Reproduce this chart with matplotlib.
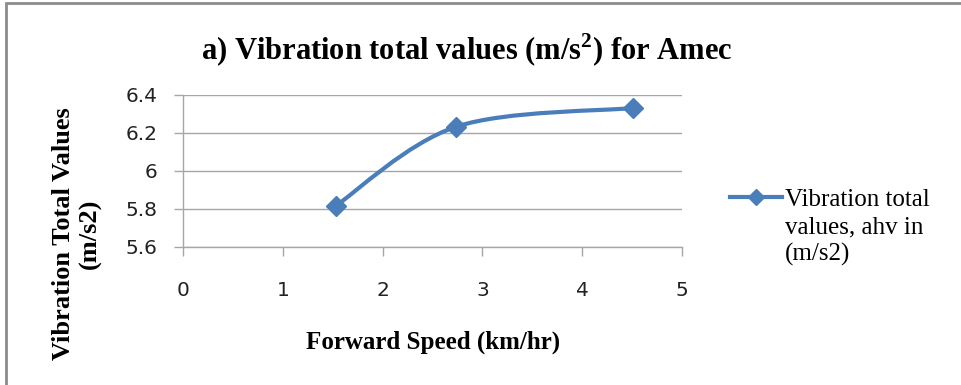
import matplotlib
matplotlib.use("Agg")
import matplotlib.pyplot as plt
from matplotlib.path import Path
from matplotlib.patches import PathPatch, Rectangle
from matplotlib.lines import Line2D

# data
speed = [1.53, 2.74, 4.51]
vibration = [5.815, 6.232, 6.33]
x_ticks = [0, 1, 2, 3, 4, 5]
y_ticks = [5.6, 5.8, 6.0, 6.2, 6.4]
y_tick_labels = ["5.6", "5.8", "6", "6.2", "6.4"]
series_label = "Vibration total\nvalues, ahv in\n(m/s2)"

BLUE = "#4A7EBB"
GRID = "#A6A6A6"
SERIF = "Liberation Serif"
SANS = "DejaVu Sans"

plt.rcParams["mathtext.fontset"] = "custom"
plt.rcParams["mathtext.rm"] = "Liberation Serif:bold"
plt.rcParams["mathtext.bf"] = "Liberation Serif:bold"


def smooth_path(xs, ys):
    """Excel-style smoothed line as cubic Bezier segments through the points."""
    pts = list(zip(xs, ys))
    verts = [pts[0]]
    codes = [Path.MOVETO]
    n = len(pts)
    for i in range(n - 1):
        p0 = pts[i - 1] if i > 0 else pts[i]
        p1 = pts[i]
        p2 = pts[i + 1]
        p3 = pts[i + 2] if i + 2 < n else pts[i + 1]
        c1 = (p1[0] + (p2[0] - p0[0]) / 6, p1[1] + (p2[1] - p0[1]) / 6)
        c2 = (p2[0] - (p3[0] - p1[0]) / 6, p2[1] - (p3[1] - p1[1]) / 6)
        verts += [c1, c2, p2]
        codes += [Path.CURVE4] * 3
    return Path(verts, codes)


fig = plt.figure(figsize=(9.61, 3.85), dpi=100)
fig.patch.set_facecolor("white")

# outer chart frame
fig.patches.append(Rectangle((6 / 961, -0.05), 1.1, (385 - 3) / 385 + 0.05,
                             transform=fig.transFigure, fill=False,
                             edgecolor="#8C8C8C", linewidth=2))

ax = fig.add_axes([183 / 961, 138.3 / 385, 499 / 961, 152 / 385])
ax.set_xlim(0, 5)
ax.set_ylim(5.6, 6.4)

ax.add_patch(PathPatch(smooth_path(speed, vibration), fill=False,
                       edgecolor=BLUE, linewidth=3, capstyle="round",
                       joinstyle="round", zorder=3))
ax.plot(speed, vibration, linestyle="none", marker="D", markersize=10,
        color=BLUE, zorder=4)

ax.set_xticks(x_ticks)
ax.set_yticks(y_ticks)
ax.set_yticklabels(y_tick_labels)
ax.grid(axis="y", color=GRID, linewidth=1)
ax.set_axisbelow(True)
for side in ("top", "right"):
    ax.spines[side].set_visible(False)
for side in ("left", "bottom"):
    ax.spines[side].set_color(GRID)
    ax.spines[side].set_linewidth(1)
ax.tick_params(axis="both", color=GRID, length=6.5, width=1, labelsize=14.5,
               labelcolor="#222222")
ax.tick_params(axis="x", pad=18)
ax.tick_params(axis="y", pad=12)
for lbl in ax.get_xticklabels() + ax.get_yticklabels():
    lbl.set_family(SANS)

fig.text(467 / 961, 1 - 50 / 385,
         r"a) Vibration total values (m/s$^{2}$) for Amec",
         ha="center", va="center", fontsize=22, fontweight="bold",
         family=SERIF)
fig.text(433 / 961, 1 - 342 / 385, "Forward Speed (km/hr)", ha="center",
         va="center", fontsize=18, fontweight="bold", family=SERIF)
fig.text(77 / 961, 1 - 234 / 385, "Vibration Total Values\n(m/s2)",
         ha="center", va="center", rotation=90, fontsize=19,
         fontweight="bold", family=SERIF, linespacing=1.2)

# legend: handle sits beside the first text line
fig.add_artist(Line2D([730 / 961, 782 / 961], [1 - 197 / 385] * 2,
                      transform=fig.transFigure, color=BLUE, linewidth=3))
fig.add_artist(Line2D([756 / 961], [1 - 197 / 385], transform=fig.transFigure,
                      color=BLUE, marker="D", markersize=8))
fig.text(785 / 961, 1 - 189 / 385, series_label, ha="left", va="top",
         fontsize=18, family=SERIF, linespacing=1.3)

fig.savefig("out.png", dpi=100)
